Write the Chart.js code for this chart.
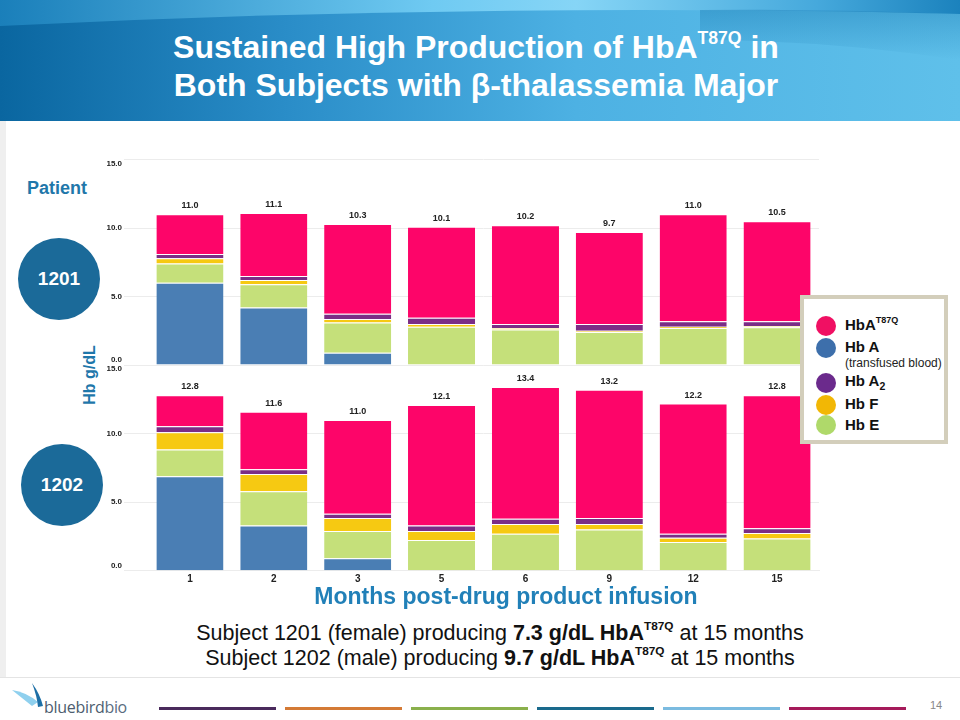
<!DOCTYPE html>
<html><head><meta charset="utf-8">
<script src="https://cdn.jsdelivr.net/npm/chart.js@4"></script>
<style>
body{margin:0;width:960px;height:720px;position:relative;overflow:hidden;background:#fff;font-family:"Liberation Sans",Arial,sans-serif;}
.abs{position:absolute;}
sup{font-size:60%;position:relative;top:-0.15em;line-height:0;vertical-align:super;}
.title{left:0;top:28px;width:952px;text-align:center;color:#fff;font-weight:bold;font-size:32px;line-height:38px;}
.title sup{font-size:55%;}
.blue{color:#1f77aa;font-weight:bold;}
.pcirc{width:82px;height:82px;border-radius:50%;background:#1b6a99;color:#fff;font-weight:bold;font-size:19px;display:flex;align-items:center;justify-content:center;}
.leg{left:800px;top:295px;width:148px;height:149px;border:4px solid #d3cebb;box-sizing:border-box;background:#fff;}
.dot{width:20px;height:20px;border-radius:50%;}
.lt{font-weight:bold;font-size:15px;color:#111;line-height:18px;}
.sub{left:0;width:1000px;text-align:center;font-size:21.5px;color:#111;line-height:25px;}
.sub sup{font-size:55%;}
.fl{height:3px;top:707px;width:117px;}
</style></head><body>
<svg class="abs" style="left:0;top:0" width="960" height="121">
<defs>
<linearGradient id="gTop" x1="0" x2="1" y1="0" y2="0">
<stop offset="0" stop-color="#1a7fba"/><stop offset="0.45" stop-color="#6fcaf2"/><stop offset="0.6" stop-color="#86d5f6"/><stop offset="0.85" stop-color="#46a9dc"/><stop offset="1" stop-color="#1b82bd"/>
</linearGradient>
<linearGradient id="gMain" x1="0" x2="1" y1="0" y2="0">
<stop offset="0" stop-color="#0a66a0"/><stop offset="0.3" stop-color="#2a8dc8"/><stop offset="0.6" stop-color="#4db1e3"/><stop offset="1" stop-color="#5fc0ea"/>
</linearGradient>
<linearGradient id="gShade" x1="0" x2="0" y1="0" y2="1">
<stop offset="0" stop-color="#0d6ea8" stop-opacity="0.55"/><stop offset="1" stop-color="#0d6ea8" stop-opacity="0"/>
</linearGradient>
</defs>
<rect width="960" height="121" fill="url(#gTop)"/>
<path d="M0,26 Q480,2 960,14 L960,121 L0,121 Z" fill="url(#gMain)"/>
<path d="M700,10 Q830,9 960,14 L960,60 Q830,40 700,40 Z" fill="url(#gShade)" opacity="0.6"/>
</svg>
<div class="abs title">Sustained High Production of HbA<sup>T87Q</sup> in<br>Both Subjects with β-thalassemia Major</div>

<div class="abs" style="left:0;top:121px;width:6px;height:556px;background:#efefef"></div>
<div class="abs" style="left:0;top:677px;width:960px;height:1px;background:#e4e4e4"></div>

<div class="abs blue" style="left:17px;top:177px;width:80px;text-align:center;font-size:18px;line-height:22px">Patient</div>
<div class="abs pcirc" style="left:18px;top:238px">1201</div>
<div class="abs pcirc" style="left:21px;top:444px">1202</div>
<div class="abs blue" style="left:50px;top:365px;width:80px;text-align:center;font-size:16px;line-height:20px;transform:rotate(-90deg)">Hb g/dL</div>

<canvas id="c1" class="abs" style="left:90px;top:150px" width="740" height="222"></canvas>
<canvas id="c2" class="abs" style="left:90px;top:355px" width="740" height="240"></canvas>

<div class="abs leg"></div>
<div class="abs dot" style="left:816px;top:316px;background:#f01063"></div>
<div class="abs lt" style="left:845px;top:316px">HbA<sup>T87Q</sup></div>
<div class="abs dot" style="left:816px;top:338px;background:#3d6fab"></div>
<div class="abs lt" style="left:845px;top:338px">Hb A</div>
<div class="abs" style="left:845px;top:356px;font-size:12px;color:#222;line-height:15px">(transfused blood)</div>
<div class="abs dot" style="left:816px;top:373px;background:#6b2a8c"></div>
<div class="abs lt" style="left:845px;top:372px">Hb A<sub style="font-size:70%;line-height:0">2</sub></div>
<div class="abs dot" style="left:816px;top:395px;background:#f2b705"></div>
<div class="abs lt" style="left:845px;top:395px">Hb F</div>
<div class="abs dot" style="left:816px;top:415px;background:#afd96a"></div>
<div class="abs lt" style="left:845px;top:416px">Hb E</div>

<div class="abs" style="left:0;top:583px;width:1012px;text-align:center;font-size:23px;line-height:26px;font-weight:bold;color:#2180b8">Months post-drug product infusion</div>
<div class="abs sub" style="top:621px">Subject 1201 (female) producing <b>7.3 g/dL HbA<sup>T87Q</sup></b> at 15 months</div>
<div class="abs sub" style="top:646px">Subject 1202 (male) producing <b>9.7 g/dL HbA<sup>T87Q</sup></b> at 15 months</div>

<svg class="abs" style="left:10px;top:680px" width="45" height="35">
<path d="M2,10 Q16,12 28,22 L22,26 Q12,18 2,10 Z" fill="#8fd0ee"/>
<path d="M22,3 Q30,14 33,26 L28,27 Q27,16 22,3 Z" fill="#1d6fa6"/>
</svg>
<div class="abs" style="left:44px;top:696px;font-family:'Open Sans',sans-serif;font-size:16px;color:#4d5d6f;letter-spacing:-0.3px">bluebird<span style="color:#5a6c80">bio</span></div>
<div class="abs fl" style="left:159px;background:#4a2a5c"></div>
<div class="abs fl" style="left:285px;background:#d47a35"></div>
<div class="abs fl" style="left:411px;background:#8ab04c"></div>
<div class="abs fl" style="left:537px;background:#1a6a8c"></div>
<div class="abs fl" style="left:663px;background:#7bbbe0"></div>
<div class="abs fl" style="left:789px;background:#a51a5a"></div>
<div class="abs" style="left:930px;top:699px;font-size:11px;color:#888">14</div>

<script>
// ---- data ----
const months = ['1','2','3','5','6','9','12','15'];
const yTicks = [0, 5, 10, 15];

// Patient 1201
const p1201_hbA    = [6.0, 4.2, 0.9, 0, 0, 0, 0, 0];
const p1201_hbE    = [1.4, 1.7, 2.2, 2.8, 2.6, 2.4, 2.7, 2.75];
const p1201_hbF    = [0.4, 0.3, 0.25, 0.2, 0.1, 0.1, 0.1, 0.1];
const p1201_hbA2   = [0.3, 0.3, 0.4, 0.45, 0.3, 0.5, 0.4, 0.35];
const p1201_hbaT87Q= [2.9, 4.6, 6.55, 6.65, 7.2, 6.7, 7.8, 7.3];
const p1201_total  = [11.0, 11.1, 10.3, 10.1, 10.2, 9.7, 11.0, 10.5];

// Patient 1202
const p1202_hbA    = [6.9, 3.3, 0.9, 0, 0, 0, 0, 0];
const p1202_hbE    = [1.95, 2.5, 2.0, 2.25, 2.7, 3.0, 2.1, 2.35];
const p1202_hbF    = [1.25, 1.25, 0.95, 0.65, 0.7, 0.4, 0.3, 0.4];
const p1202_hbA2   = [0.45, 0.35, 0.3, 0.4, 0.4, 0.45, 0.3, 0.35];
const p1202_hbaT87Q= [2.25, 4.2, 6.85, 8.8, 9.6, 9.35, 9.5, 9.7];
const p1202_total  = [12.8, 11.6, 11.0, 12.1, 13.4, 13.2, 12.2, 12.8];

const colors = {hbA:'#4a7eb4', hbE:'#c5e07a', hbF:'#f6c912', hbA2:'#7b2d86', t87q:'#fd0569'};

const totalsPlugin = {
  id:'totals',
  afterDatasetsDraw(chart, args, opts){
    const ctx = chart.ctx, xs = chart.scales.x, ys = chart.scales.y;
    ctx.save();
    ctx.font = 'bold 9px "Liberation Sans", Arial, sans-serif';
    ctx.fillStyle = '#222';
    ctx.textAlign = 'center';
    ctx.textBaseline = 'bottom';
    opts.values.forEach((v,i)=>{
      ctx.fillText(v.toFixed(1), xs.getPixelForValue(i), ys.getPixelForValue(v) - 4);
    });
    ctx.restore();
  }
};

// y tick labels, kept inside the plot's vertical span (like the original)
const yLabelPlugin = {
  id:'ylabels',
  afterDraw(chart){
    const ctx = chart.ctx, ys = chart.scales.y, ca = chart.chartArea;
    ctx.save();
    ctx.font = 'bold 8px "Liberation Sans", Arial, sans-serif';
    ctx.fillStyle = '#222';
    ctx.textAlign = 'right';
    ctx.textBaseline = 'middle';
    yTicks.forEach(v=>{
      const py = Math.min(Math.max(ys.getPixelForValue(v), ca.top + 4), ca.bottom - 5);
      ctx.fillText(v.toFixed(1), ca.left - 26, py);
    });
    ctx.restore();
  }
};

function ds(label, data, color){
  return {label, data, backgroundColor: color, borderColor:'rgba(255,255,255,0.55)',
    borderWidth:{top:1,left:0,right:0,bottom:0}, borderSkipped:false,
    categoryPercentage:0.8, barPercentage:1.0};
}

function makeChart(id, s, totals, showX, xH, pad){
  return new Chart(document.getElementById(id), {
    type:'bar',
    data:{labels: months, datasets:[
      ds('Hb A', s.hbA, colors.hbA),
      ds('Hb E', s.hbE, colors.hbE),
      ds('Hb F', s.hbF, colors.hbF),
      ds('Hb A2', s.hbA2, colors.hbA2),
      ds('HbA T87Q', s.t87q, colors.t87q)
    ]},
    options:{
      responsive:false, animation:false, devicePixelRatio:1,
      layout:{padding:pad},
      plugins:{legend:{display:false}, tooltip:{enabled:false}, totals:{values: totals}},
      scales:{
        x:{stacked:true, display:showX,
           grid:{display:false, drawTicks:false},
           border:{display:true, color:'#ececec'},
           ticks:{padding:3, color:'#222', font:{family:'"Liberation Sans", Arial', size:10, weight:'bold'}},
           afterFit(sc){ sc.height = xH; }},
        y:{stacked:true, min:0, max:15,
           afterBuildTicks(sc){ sc.ticks = yTicks.map(v=>({value:v})); },
           grid:{color:'#ececec', drawTicks:true, tickLength:24, tickColor:'#ececec'},
           border:{display:false},
           ticks:{display:false},
           afterFit(sc){ sc.width = 58; }}
      }
    },
    plugins:[totalsPlugin, yLabelPlugin]
  });
}

makeChart('c1', {hbA:p1201_hbA, hbE:p1201_hbE, hbF:p1201_hbF, hbA2:p1201_hbA2, t87q:p1201_hbaT87Q},
          p1201_total, false, 0, {top:9.5, right:11, bottom:7, left:0});
makeChart('c2', {hbA:p1202_hbA, hbE:p1202_hbE, hbF:p1202_hbF, hbA2:p1202_hbA2, t87q:p1202_hbaT87Q},
          p1202_total, true, 20, {top:10.2, right:11, bottom:4.3, left:0});
</script>
</body></html>
